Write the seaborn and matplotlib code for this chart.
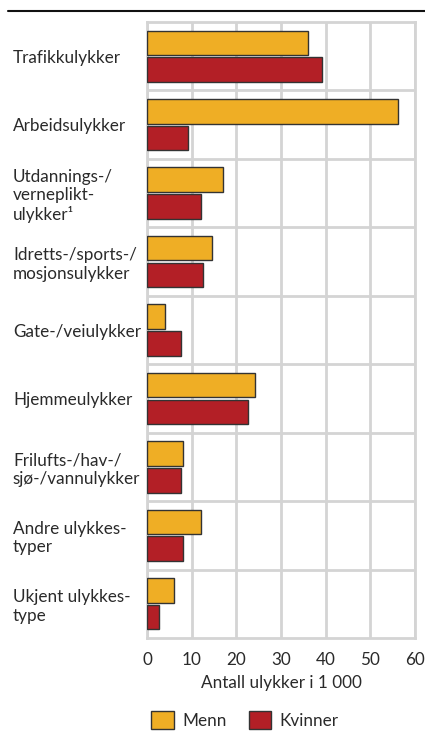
import matplotlib
matplotlib.use("Agg")
import matplotlib.pyplot as plt
from matplotlib.lines import Line2D
import seaborn as sns
import pandas as pd

categories = [
    "Trafikkulykker",
    "Arbeidsulykker",
    "Utdannings-/\nverneplikt-\nulykker¹",
    "Idretts-/sports-/\nmosjonsulykker",
    "Gate-/veiulykker",
    "Hjemmeulykker",
    "Frilufts-/hav-/\nsjø-/vannulykker",
    "Andre ulykkes-\ntyper",
    "Ukjent ulykkes-\ntype",
]
menn = [36.1, 56.1, 17.1, 14.6, 4.1, 24.1, 8.1, 12.2, 6.1]
kvinner = [39.1, 9.2, 12.2, 12.6, 7.6, 22.6, 7.6, 8.1, 2.7]
series_names = ["Menn", "Kvinner"]
xticks = [0, 10, 20, 30, 40, 50, 60]
xlabel = "Antall ulykker i 1 000"

df = pd.DataFrame({
    "kategori": categories * 2,
    "antall": menn + kvinner,
    "kjonn": [series_names[0]] * len(categories) + [series_names[1]] * len(categories),
})

sns.set_theme(style="white")
plt.rcParams["font.family"] = ["Lato", "DejaVu Sans"]

W, H = 425, 732
FS = 12.3
TXT = "#2a2a2a"
fig = plt.figure(figsize=(W / 100, H / 100), dpi=100)
ax = fig.add_axes([147 / W, 1 - 638 / H, (415 - 147) / W, (638 - 22) / H])

sns.barplot(data=df, y="kategori", x="antall", hue="kjonn", orient="h",
            palette=["#EFAE25", "#B31F26"], saturation=1, edgecolor="#333333", linewidth=1,
            width=0.78, gap=0.08, ax=ax, zorder=3)

ax.set_xlim(0, 60)
ax.set_ylim(len(categories) - 0.5, -0.5)
ax.set_xticks(xticks)
ax.set_yticks(range(len(categories)))
ax.set_yticklabels(categories)
ax.set_yticks([i + 0.5 for i in range(len(categories) - 1)], minor=True)
ax.grid(axis="x", which="major", color="#d4d4d4", lw=2, zorder=0)
ax.grid(axis="y", which="minor", color="#d4d4d4", lw=2, zorder=0)
ax.grid(axis="y", which="major", visible=False)
ax.set_axisbelow(True)
for s in ax.spines.values():
    s.set_color("#d4d4d4")
    s.set_linewidth(2)

ax.set_ylabel("")
ax.set_xlabel(xlabel, fontsize=FS, color=TXT, labelpad=5)
ax.tick_params(axis="x", length=0, pad=10, labelsize=FS, labelcolor=TXT)
ax.tick_params(axis="y", which="both", length=0, pad=96.5, labelsize=FS, labelcolor=TXT)
for lab in ax.get_yticklabels():
    lab.set_ha("left")
    lab.set_linespacing(1.2)

handles, labels = ax.get_legend_handles_labels()
ax.get_legend().remove()
fig.legend(handles, labels, loc="center", bbox_to_anchor=(245 / W, 1 - 720 / H),
           ncol=2, frameon=False, fontsize=FS, handlelength=1.3, handleheight=1.3,
           columnspacing=1.3, handletextpad=0.5, labelcolor=TXT)

fig.add_artist(Line2D([8 / W, 1.0], [1 - 11 / H, 1 - 11 / H], color="#111111", lw=1.5,
                      transform=fig.transFigure))

fig.savefig("out.png", dpi=100)
